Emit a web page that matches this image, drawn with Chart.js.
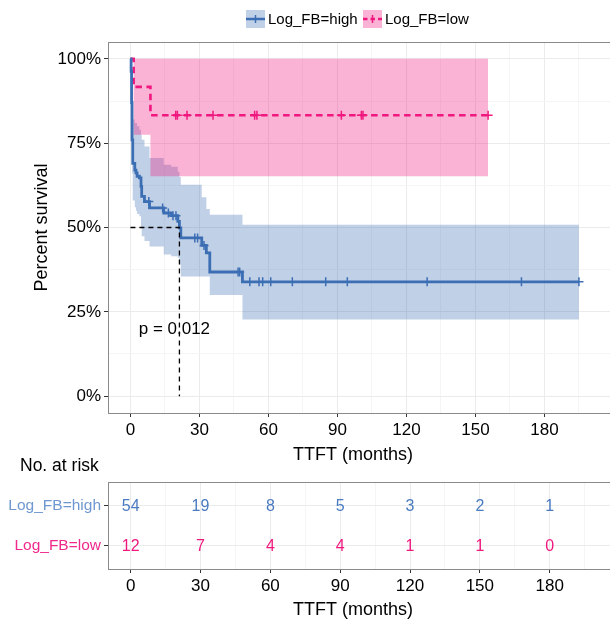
<!DOCTYPE html>
<html>
<head>
<meta charset="utf-8">
<script src="https://cdn.jsdelivr.net/npm/chart.js@4.4.1/dist/chart.umd.min.js"></script>
<style>
  body { margin: 0; background: #fff; }
  #wrap { position: relative; width: 610px; height: 622px; overflow: hidden; }
  #wrap div { position: absolute; left: 0; width: 616px; }
</style>
</head>
<body>
<div id="wrap">
  <div style="top:0;height:470px"><canvas id="km"></canvas></div>
  <div style="top:440px;height:182px"><canvas id="risk"></canvas></div>
</div>
<script>
// group names
const groups = ["Log_FB=high", "Log_FB=low"];

// Log_FB=high : step times, survival and confidence band
const highTime  = [0, 0.3, 0.5, 0.7, 1.0, 1.9, 2.4, 2.9, 3.9, 4.6, 4.9, 6.1, 8.3, 14.5, 17.7, 20.6, 21.3, 21.9, 31.0, 33.0, 34.5, 48.7, 195];
const highSurv  = [1, 0.963, 0.87, 0.76, 0.69, 0.67, 0.662, 0.652, 0.647, 0.622, 0.592, 0.577, 0.558, 0.543, 0.535, 0.518, 0.499, 0.469, 0.447, 0.425, 0.368, 0.339, 0.339];
const highUpper = [1, 1, 0.99, 0.89, 0.82, 0.81, 0.81, 0.80, 0.79, 0.775, 0.76, 0.74, 0.706, 0.686, 0.68, 0.665, 0.65, 0.627, 0.59, 0.555, 0.538, 0.508, 0.508];
const highLower = [1, 0.91, 0.78, 0.66, 0.58, 0.56, 0.55, 0.54, 0.533, 0.50, 0.474, 0.46, 0.444, 0.42, 0.415, 0.41, 0.39, 0.355, 0.355, 0.355, 0.30, 0.227, 0.227];
const highCensor = [8, 14, 16.5, 18.5, 19.8, 28, 29.2, 32, 46.8, 47.5, 51.9, 55.9, 57.5, 61, 70.4, 84.9, 94.3, 129, 170, 195];

// Log_FB=low
const lowTime  = [0, 1.4, 8.7, 155.5];
const lowSurv  = [1, 0.917, 0.833, 0.833];
const lowUpper = [1, 1, 1, 1];
const lowLower = [1, 0.775, 0.652, 0.652];
const lowCensor = [19.7, 20.4, 24.6, 35.9, 54, 55, 91.7, 100.4, 101.1, 155.5];

// axes
const xTicks = [0, 30, 60, 90, 120, 150, 180];
const yTicks = [0, 0.25, 0.5, 0.75, 1];
const xTitle = "TTFT (months)";
const pValue = "p = 0.012";

// number at risk
const riskTimes = [0, 30, 60, 90, 120, 150, 180];
const riskHigh = [54, 19, 8, 5, 3, 2, 1];
const riskLow  = [12, 7, 4, 4, 1, 1, 0];

const FONT = "'Liberation Sans', Arial, sans-serif";
Chart.defaults.font.family = FONT;
Chart.defaults.color = "#000";

const BLUE = "#3C6EB4", PINK = "#F0177F";
const BLUE_BAND = "rgba(60,110,180,0.32)", PINK_BAND = "rgba(240,23,127,0.33)";
const BLUE_TXT = "#6F97D0", PINK_TXT = "#F0288C";

function steps(t, v) { return t.map((x, i) => ({ x: x, y: v[i] })); }
function survAt(t, v, x) {
  let s = v[0];
  for (let i = 0; i < t.length; i++) if (t[i] <= x) s = v[i];
  return s;
}
function medianOf(t, v) {
  for (let i = 0; i < t.length; i++) if (v[i] <= 0.5) return t[i];
  return null;
}
const med = medianOf(highTime, highSurv);

// minor grid lines halfway between majors
const xGrid = [];
xTicks.forEach(v => { xGrid.push(v); xGrid.push(v + 15); });
const yGrid = [];
yTicks.forEach((v, i) => { yGrid.push(v); if (i < yTicks.length - 1) yGrid.push(v + 0.125); });

function xScale(h) {
  return {
    type: "linear",
    min: -9.75,
    max: 208.5,
    afterBuildTicks: s => { s.ticks = xGrid.map(v => ({ value: v })); },
    afterFit: s => { s.height = h; },
    border: { display: false },
    grid: {
      color: c => xTicks.includes(c.tick.value) ? "#EBEBEB" : "#F5F5F5",
      tickColor: c => xTicks.includes(c.tick.value) ? "#333" : "rgba(0,0,0,0)",
      tickLength: 4
    },
    ticks: {
      callback: v => xTicks.includes(v) ? String(v) : "",
      font: { size: 17 },
      color: "#000",
      padding: 3,
      maxRotation: 0,
      autoSkip: false
    }
  };
}

// x title drawn by hand (ggplot centres it a bit left of the panel centre)
function drawXTitle(chart, y) {
  const ctx = chart.ctx;
  ctx.fillStyle = "#000";
  ctx.font = "18px " + FONT;
  ctx.textAlign = "center";
  ctx.textBaseline = "middle";
  ctx.fillText(xTitle, 353, y);
}

const kmPlugin = {
  id: "kmExtras",
  afterDraw(chart) {
    const ctx = chart.ctx, a = chart.chartArea;
    const x = chart.scales.x, y = chart.scales.y;
    ctx.save();
    // p value
    ctx.font = "17px " + FONT;
    ctx.fillStyle = "#000";
    ctx.textAlign = "left";
    ctx.textBaseline = "middle";
    ctx.fillText(pValue, x.getPixelForValue(3.6), y.getPixelForValue(0.198));
    // panel border
    ctx.strokeStyle = "#8a8a8a";
    ctx.lineWidth = 1;
    ctx.strokeRect(a.left + 0.5, a.top + 0.5, a.right - a.left, a.bottom - a.top);
    drawXTitle(chart, 455);
    // legend
    const keys = [
      { x: 246, band: BLUE_BAND, line: BLUE, dash: [], label: groups[0], tx: 268 },
      { x: 363, band: PINK_BAND, line: PINK, dash: [4.5, 3], label: groups[1], tx: 385 }
    ];
    keys.forEach(k => {
      ctx.fillStyle = k.band;
      ctx.fillRect(k.x, 10, 19, 18);
      ctx.strokeStyle = k.line;
      ctx.lineWidth = 2.5;
      ctx.setLineDash(k.dash);
      ctx.beginPath(); ctx.moveTo(k.x, 19); ctx.lineTo(k.x + 19, 19); ctx.stroke();
      ctx.setLineDash([]);
      ctx.lineWidth = 1.5;
      ctx.beginPath(); ctx.moveTo(k.x + 9.5, 15); ctx.lineTo(k.x + 9.5, 23); ctx.stroke();
      ctx.fillStyle = "#000";
      ctx.font = "15px " + FONT;
      ctx.textAlign = "left";
      ctx.textBaseline = "middle";
      ctx.fillText(k.label, k.tx, 19.5);
    });
    ctx.restore();
  }
};

const noPt = { pointRadius: 0, pointHoverRadius: 0 };

new Chart(document.getElementById("km"), {
  type: "line",
  data: {
    datasets: [
      { data: steps(highTime, highUpper), stepped: true, fill: 1, backgroundColor: BLUE_BAND, borderWidth: 0, order: 3, ...noPt },
      { data: steps(highTime, highLower), stepped: true, fill: false, borderWidth: 0, order: 3, ...noPt },
      { data: steps(lowTime, lowUpper), stepped: true, fill: 3, backgroundColor: PINK_BAND, borderWidth: 0, order: 2, ...noPt },
      { data: steps(lowTime, lowLower), stepped: true, fill: false, borderWidth: 0, order: 2, ...noPt },
      { data: steps(highTime, highSurv), stepped: true, fill: false, borderColor: BLUE, borderWidth: 2.8, order: 1, ...noPt },
      { data: steps(lowTime, lowSurv), stepped: true, fill: false, borderColor: PINK, borderWidth: 2.6, borderDash: [6.5, 4.5], order: 1, ...noPt },
      { data: highCensor.map(t => ({ x: t, y: survAt(highTime, highSurv, t) })), showLine: false, pointStyle: "cross",
        pointRadius: 4.5, pointBorderColor: BLUE, pointBorderWidth: 1.5, borderColor: BLUE, order: 0 },
      { data: lowCensor.map(t => ({ x: t, y: survAt(lowTime, lowSurv, t) })), showLine: false, pointStyle: "cross",
        pointRadius: 4.5, pointBorderColor: PINK, pointBorderWidth: 1.5, borderColor: PINK, order: 0 },
      { data: [{ x: 0, y: 0.5 }, { x: med, y: 0.5 }, { x: med, y: 0 }], fill: false, borderColor: "#000",
        borderWidth: 1.3, borderDash: [5, 4], order: 0, ...noPt }
    ]
  },
  options: {
    responsive: true,
    maintainAspectRatio: false,
    animation: false,
    events: [],
    layout: { padding: { top: 42, right: 0, bottom: 0, left: 0 } },
    plugins: { legend: { display: false }, tooltip: { enabled: false } },
    scales: {
      x: xScale(57),
      y: {
        type: "linear",
        min: -0.05,
        max: 1.05,
        afterBuildTicks: s => { s.ticks = yGrid.map(v => ({ value: v })); },
        afterFit: s => { s.width = 108; },
        border: { display: false },
        grid: {
          color: c => yTicks.includes(c.tick.value) ? "#EBEBEB" : "#F5F5F5",
          tickColor: c => yTicks.includes(c.tick.value) ? "#333" : "rgba(0,0,0,0)",
          tickLength: 4
        },
        ticks: {
          callback: v => yTicks.includes(v) ? Math.round(v * 100) + "%" : "",
          font: { size: 17 },
          color: "#000",
          padding: 3,
          autoSkip: false
        },
        title: { display: true, text: "Percent survival", font: { size: 18 }, color: "#000", padding: { top: 31, bottom: 0 } }
      }
    }
  },
  plugins: [kmPlugin]
});

// risk table
const riskPlugin = {
  id: "riskText",
  afterDraw(chart) {
    const ctx = chart.ctx, a = chart.chartArea;
    ctx.save();
    ctx.font = "16px " + FONT;
    ctx.textAlign = "center";
    ctx.textBaseline = "middle";
    [riskHigh, riskLow].forEach((vals, di) => {
      const meta = chart.getDatasetMeta(di);
      ctx.fillStyle = di === 0 ? "#4A7BC1" : PINK;
      meta.data.forEach((el, i) => ctx.fillText(String(vals[i]), el.x, el.y + 1));
    });
    ctx.strokeStyle = "#8a8a8a";
    ctx.lineWidth = 1;
    ctx.strokeRect(a.left + 0.5, a.top + 0.5, a.right - a.left, a.bottom - a.top);
    drawXTitle(chart, 170);
    ctx.fillStyle = "#000";
    ctx.font = "17.5px " + FONT;
    ctx.textAlign = "left";
    ctx.fillText("No. at risk", 20, 26);
    ctx.restore();
  }
};

new Chart(document.getElementById("risk"), {
  type: "line",
  data: {
    datasets: [
      { data: riskTimes.map(t => ({ x: t, y: 1 })), showLine: false, ...noPt },
      { data: riskTimes.map(t => ({ x: t, y: 2 })), showLine: false, ...noPt }
    ]
  },
  options: {
    responsive: true,
    maintainAspectRatio: false,
    animation: false,
    events: [],
    layout: { padding: { top: 42, right: 0, bottom: 0, left: 0 } },
    plugins: { legend: { display: false }, tooltip: { enabled: false } },
    scales: {
      x: xScale(53),
      y: {
        type: "linear",
        min: 0.4,
        max: 2.6,
        reverse: true,
        afterBuildTicks: s => { s.ticks = [{ value: 1 }, { value: 2 }]; },
        afterFit: s => { s.width = 108; },
        border: { display: false },
        grid: { color: "#EBEBEB", tickColor: "#333", tickLength: 4 },
        ticks: {
          callback: v => groups[v - 1],
          color: c => c.tick && c.tick.value === 1 ? BLUE_TXT : PINK_TXT,
          font: { size: 15.5 },
          padding: 3,
          autoSkip: false
        }
      }
    }
  },
  plugins: [riskPlugin]
});
</script>
</body>
</html>
